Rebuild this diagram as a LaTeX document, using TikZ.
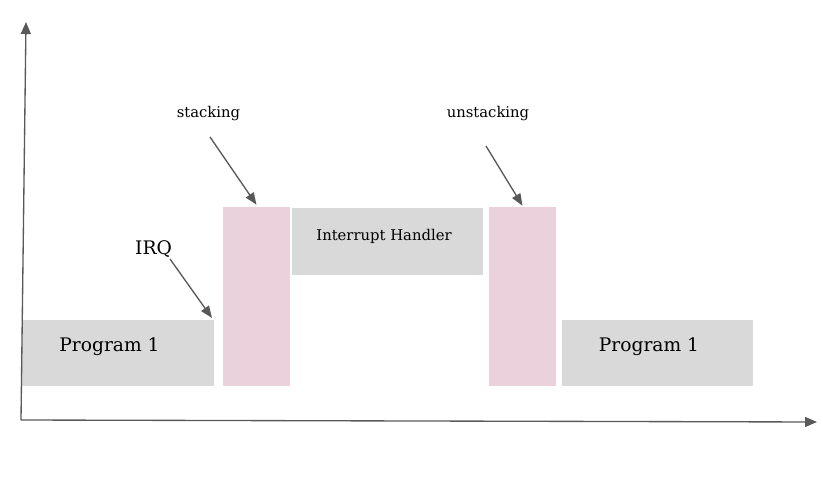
\documentclass[tikz,border=0pt]{standalone}
\usepackage{fontspec}
\setmainfont{DejaVu Serif}
\usetikzlibrary{arrows.meta}
\definecolor{boxgray}{HTML}{D9D9D9}
\definecolor{boxpink}{HTML}{EAD1DC}
\definecolor{linegray}{HTML}{595959}
\begin{document}
\begin{tikzpicture}[x=0.75pt,y=-0.75pt,
  graybox/.style={fill=boxgray,draw=none,inner sep=0pt},
  pinkbox/.style={fill=boxpink,draw=none,inner sep=0pt},
  bigtxt/.style={font=\fontsize{14pt}{16pt}\selectfont,inner sep=0pt,anchor=base},
  smalltxt/.style={font=\fontsize{11.1pt}{13pt}\selectfont,inner sep=0pt,anchor=base},
  axis/.style={draw=linegray,line width=1pt,-{Triangle[length=9pt,width=7.5pt]}},
  pointer/.style={draw=linegray,line width=1pt,-{Triangle[length=9pt,width=7pt]}}]
\useasboundingbox (0,0) rectangle (823,495);
% boxes
\node[graybox,minimum width=144pt,minimum height=49.5pt] (p1) at (118,353) {};
\node[pinkbox,minimum width=50.25pt,minimum height=134.25pt] (s1) at (256.5,296.5) {};
\node[graybox,minimum width=143.25pt,minimum height=50.25pt] (ih) at (387.5,241.5) {};
\node[pinkbox,minimum width=50.25pt,minimum height=134.25pt] (s2) at (522.5,296.5) {};
\node[graybox,minimum width=143.25pt,minimum height=49.5pt] (p2) at (657.5,353) {};
% texts
\node[bigtxt] (p1t) at (109.5,351) {Program 1};
\node[bigtxt] (p2t) at (649,351) {Program 1};
\node[smalltxt] (iht) at (384,240) {Interrupt Handler};
\node[smalltxt] (stk) at (208.5,118) {stacking};
\node[smalltxt] (ustk) at (488,118) {unstacking};
\node[bigtxt] (irq) at (153.5,254) {IRQ};
% axes
\coordinate (o) at (21,420);
\coordinate (ytip) at (26,22);
\coordinate (xtip) at (817,422);
\draw[axis] (o) -- (ytip);
\draw[axis] (o) -- (xtip);
% pointers
\coordinate (irqs) at (170,259);
\coordinate (irqe) at (212,318);
\coordinate (stks) at (210,137);
\coordinate (ustks) at (486,146);
\draw[pointer] (irqs) -- (irqe);
\draw[pointer] (stks) -- ([yshift=1.5pt]s1.north);
\draw[pointer] (ustks) -- ([yshift=0.75pt]s2.north);
\end{tikzpicture}
\end{document}
